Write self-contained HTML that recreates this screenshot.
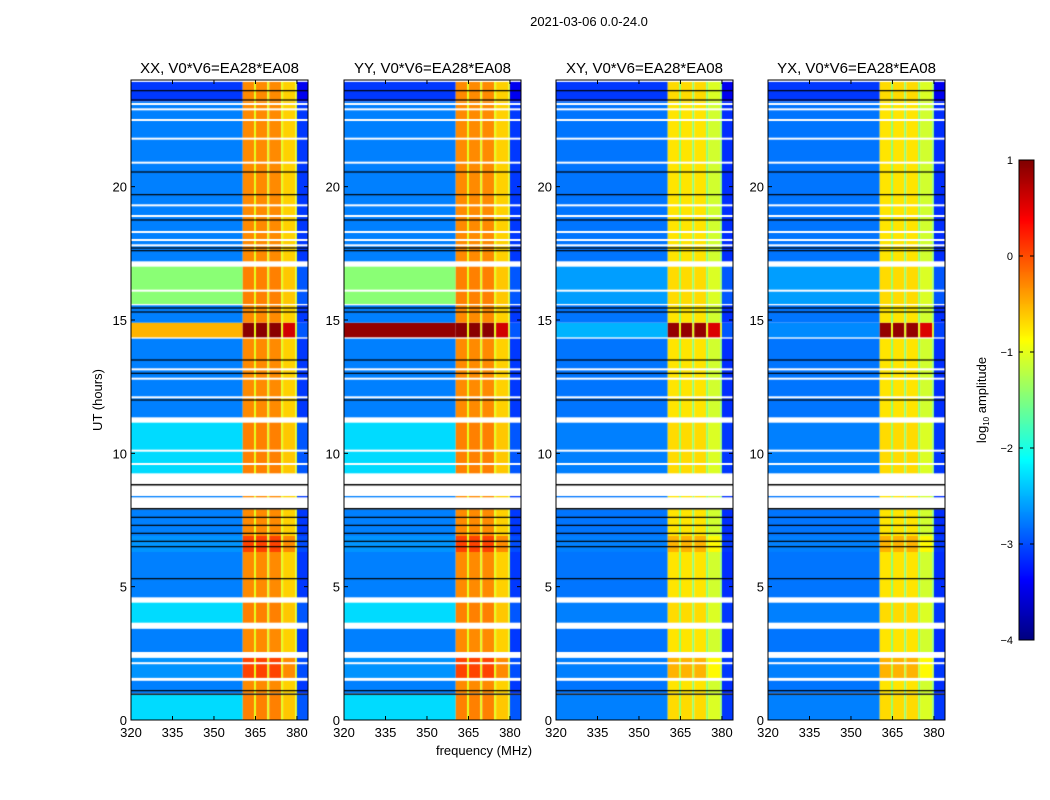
<!DOCTYPE html>
<html><head><meta charset="utf-8">
<style>
body{margin:0;background:#fff;font-family:"Liberation Sans",sans-serif;}
#wrap{position:relative;width:1050px;height:800px;overflow:hidden;background:#fff;}
canvas{position:absolute;}
svg{position:absolute;left:0;top:0;}
</style></head>
<body>
<div id="wrap">
<canvas id="p0" width="177" height="640" style="left:131px;top:80px"></canvas>
<canvas id="p1" width="177" height="640" style="left:344px;top:80px"></canvas>
<canvas id="p2" width="177" height="640" style="left:556px;top:80px"></canvas>
<canvas id="p3" width="177" height="640" style="left:768px;top:80px"></canvas>
<canvas id="cb" width="15" height="480" style="left:1019px;top:160px"></canvas>
<svg id="ov" width="1050" height="800"></svg>
</div>
<script>
// ---- data ----
const panelTitles = ["XX, V0*V6=EA28*EA08","YY, V0*V6=EA28*EA08","XY, V0*V6=EA28*EA08","YX, V0*V6=EA28*EA08"];
const xTicks = [320,335,350,365,380];
const yTicks = [0,5,10,15,20];
const cbTicks = [1,0,-1,-2,-3,-4];
// frequency bands: [f0, f1, type]
const freqBands = [[320,360.4,'bg'],[360.4,364.5,'rfi'],[364.5,365.2,'seam'],[365.2,369.3,'rfi'],[369.3,370,'seam'],[370,374.3,'rfi'],[374.3,375,'seam'],[375,379.4,'rfi2'],[379.4,380,'seam'],[380,384,'edge']];
// time segments: [t0, t1, kind]
const segments = [
 [0,0.95,'c'],[0.95,1.0,'k'],[1.0,1.47,'n'],[1.47,1.58,'w'],[1.58,2.33,'h'],[2.33,2.55,'w'],
 [2.55,3.42,'n'],[3.42,3.65,'w'],[3.65,4.4,'c'],[4.4,4.6,'w'],[4.6,6.3,'n'],[6.3,6.9,'h'],
 [6.9,7.9,'n'],[7.9,7.95,'k'],[7.95,8.35,'w'],[8.35,8.4,'n'],[8.4,8.8,'w'],[8.8,8.85,'k'],
 [8.85,9.25,'w'],[9.25,11.15,'c'],[11.15,11.35,'w'],[11.35,14.3,'n'],[14.3,14.35,'w'],
 [14.35,14.9,'r'],[14.9,15.55,'n'],[15.55,15.6,'w'],[15.6,17.0,'g'],[17.0,17.2,'w'],
 [17.2,23.2,'n'],[23.2,23.93,'d']
];
const whiteLines = [2.13,9.6,10.1,12.1,12.8,13.15,16.1,17.8,18.0,18.3,18.9,19.3,20.9,21.8,22.5,22.9,23.1];
const blackLines = [1.1,5.3,6.5,6.7,7.0,7.3,7.6,12.0,13.0,13.5,15.3,15.45,17.6,17.7,18.75,19.7,20.55,23.25,23.6];
// levels per kind: bg / rfi per panel (XX,YY,XY,YX)
const kindBg = {n:[-2.75,-2.75,-2.8,-2.8],c:[-2.3,-2.3,-2.75,-2.75],g:[-1.45,-1.45,-2.6,-2.6],h:[-2.65,-2.65,-2.75,-2.75],r:[-0.5,0.9,-2.5,-2.7],d:[-3.1,-3.1,-3.1,-3.1]};
const kindRfi = {n:[-0.3,-0.3,-0.75,-0.75],c:[-0.25,-0.25,-0.7,-0.7],g:[-0.25,-0.25,-0.7,-0.7],h:[0.05,0.05,-0.5,-0.5],r:[0.95,0.95,0.9,0.9],d:[-0.3,-0.3,-0.7,-0.7]};

// ---- helpers ----
const FMIN=320,FMAX=384,TMIN=0,TMAX=24,PW=177,PH=640,VMIN=-4,VMAX=1;
function xPix(f){return (f-FMIN)/(FMAX-FMIN)*PW;}
function yPix(t){return PH-(t-TMIN)/(TMAX-TMIN)*PH;}
function jet(v){let x=(v-VMIN)/(VMAX-VMIN);x=Math.max(0,Math.min(1,x));
 const c=q=>Math.round(255*Math.max(0,Math.min(1,1.5-Math.abs(4*x-q))));
 return `rgb(${c(3)},${c(2)},${c(1)})`;}
function level(kind,type,p){
 const bg=kindBg[kind][p],rf=kindRfi[kind][p];
 if(type==='bg')return bg;
 if(type==='rfi')return rf;
 if(type==='rfi2')return rf-0.35;
 if(type==='seam')return Math.min(rf-0.7,-1.0);
 if(type==='edge')return Math.min(bg,-2.6)-0.35;
}
for(let p=0;p<4;p++){
 const ctx=document.getElementById('p'+p).getContext('2d');
 ctx.fillStyle='#fff';ctx.fillRect(0,0,PW,PH);
 for(const s of segments){
  const y0=yPix(s[1]),y1=yPix(s[0]);
  if(s[2]==='w')continue;
  if(s[2]==='k'){ctx.fillStyle='#000';ctx.fillRect(0,y0,PW,Math.max(1.5,y1-y0));continue;}
  for(const b of freqBands){
   ctx.fillStyle=jet(level(s[2],b[2],p));
   ctx.fillRect(xPix(b[0]),y0,xPix(b[1])-xPix(b[0]),y1-y0);
  }
 }
 ctx.fillStyle='#fff';
 for(const t of whiteLines)ctx.fillRect(0,yPix(t)-1,PW,2);
 ctx.fillStyle='#000';
 for(const t of blackLines)ctx.fillRect(0,yPix(t)-0.6,PW,1.2);
}
// colorbar
const cb=document.getElementById('cb').getContext('2d');
for(let i=0;i<480;i++){cb.fillStyle=jet(VMAX-(i+0.5)/480*(VMAX-VMIN));cb.fillRect(0,i,15,1);}

// ---- svg overlay ----
const NS='http://www.w3.org/2000/svg';
const ov=document.getElementById('ov');
const panelX=[131,344,556,768];
function el(tag,attrs,txt){const e=document.createElementNS(NS,tag);for(const k in attrs)e.setAttribute(k,attrs[k]);if(txt!==undefined)e.textContent=txt;ov.appendChild(e);return e;}
let e=el('text',{x:589,y:26,'font-size':13,'text-anchor':'middle',fill:'#000'},'2021-03-06 0.0-24.0');


for(let p=0;p<4;p++){
 const X=panelX[p],Y=80;
 e=el('rect',{x:X,y:Y,width:PW,height:PH,fill:'none',stroke:'#000','stroke-width':1});
 
 
 e=el('text',{x:X+PW/2,y:73,'font-size':15,'text-anchor':'middle',fill:'#000'},panelTitles[p]);
 
 
 for(const f of xTicks){
  const x=X+xPix(f);
  el('line',{x1:x,y1:Y+PH,x2:x,y2:Y+PH-4,stroke:'#000'});
  el('line',{x1:x,y1:Y,x2:x,y2:Y+4,stroke:'#000'});
  e=el('text',{x:x,y:Y+PH+17,'font-size':13,'text-anchor':'middle',fill:'#000'},String(f));
  
  
 }
 for(const t of yTicks){
  const y=Y+yPix(t);
  el('line',{x1:X,y1:y,x2:X+4,y2:y,stroke:'#000'});
  el('line',{x1:X+PW,y1:y,x2:X+PW-4,y2:y,stroke:'#000'});
  e=el('text',{x:X-4,y:y+5,'font-size':13,'text-anchor':'end',fill:'#000'},String(t));
  
  
 }
}
e=el('text',{x:0,y:0,'font-size':13,'text-anchor':'middle',fill:'#000',transform:'translate(102,400) rotate(-90)'},'UT (hours)');


e=el('text',{x:484,y:755,'font-size':13,'text-anchor':'middle',fill:'#000'},'frequency (MHz)');


e=el('rect',{x:1019,y:160,width:15,height:480,fill:'none',stroke:'#000'});


for(const v of cbTicks){
 const y=160+(VMAX-v)/(VMAX-VMIN)*480;
 el('line',{x1:1019,y1:y,x2:1023,y2:y,stroke:'#000'});
 el('line',{x1:1034,y1:y,x2:1030,y2:y,stroke:'#000'});
 e=el('text',{x:1013,y:y+4,'font-size':11,'text-anchor':'end',fill:'#000'},v<0?'\u2212'+(-v):String(v));
 
 
}
e=el('text',{x:0,y:0,'font-size':13,'text-anchor':'middle',fill:'#000',transform:'translate(986,400) rotate(-90)'});


const t1=document.createElementNS(NS,'tspan');t1.textContent='log';e.appendChild(t1);
const t2=document.createElementNS(NS,'tspan');t2.textContent='10';t2.setAttribute('font-size','8');t2.setAttribute('dy','3');e.appendChild(t2);
const t3=document.createElementNS(NS,'tspan');t3.textContent=' amplitude';t3.setAttribute('dy','-3');e.appendChild(t3);
</script>
</body></html>
